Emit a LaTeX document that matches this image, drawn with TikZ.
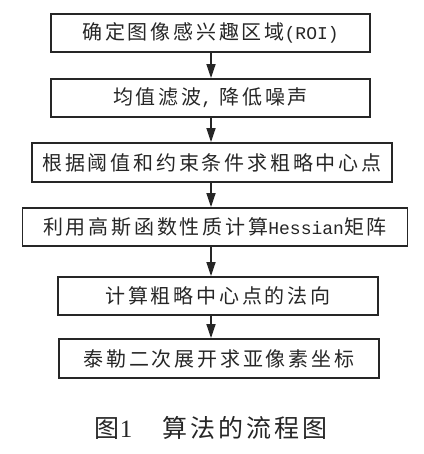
\documentclass[tikz,border=0pt]{standalone}
\usepackage{fontspec}
\newfontfamily\cjk[LetterSpace=14]{Noto Sans CJK SC}
\newfontfamily\cjkcap[LetterSpace=12]{Noto Sans CJK SC}
\newfontfamily\lat{Liberation Mono}
\newfontfamily\capnum{Liberation Serif}
\usetikzlibrary{arrows.meta}
\tikzset{
  stepbox/.style={draw=black!85, line width=1.8pt, inner sep=0pt, minimum height=38pt,
    font=\fontsize{20}{22}\selectfont\cjk, text=black!85},
  flow/.style={draw=black!85, line width=1.6pt, -{Triangle[length=14pt,width=9pt]}}
}
\begin{document}
\begin{tikzpicture}[x=1pt,y=-1pt]
\useasboundingbox (0,0) rectangle (423,454);
\node[stepbox, minimum width=319pt] (b1) at (210.5,33) {确定图像感兴趣区域{\fontsize{18}{20}\lat (ROI)}};
\node[stepbox, minimum width=319pt] (b2) at (210.5,98) {均值滤波{\fontsize{18}{20}\lat ,} 降低噪声};
\node[stepbox, minimum width=360pt, minimum height=39pt] (b3) at (212,162.5) {根据阈值和约束条件求粗略中心点};
\node[stepbox, minimum width=385pt] (b4) at (215,227) {利用高斯函数性质计算{\fontsize{18}{20}\lat Hessian}矩阵};
\node[stepbox, minimum width=320pt] (b5) at (218,296) {计算粗略中心点的法向};
\node[stepbox, minimum width=320pt, minimum height=39pt] (b6) at (219,358.5) {泰勒二次展开求亚像素坐标};
\coordinate (ax) at (211,0);
\draw[flow] (b1.south -| ax) -- (b2.north -| ax);
\draw[flow] (b2.south -| ax) -- (b3.north -| ax);
\draw[flow] (b3.south -| ax) -- (b4.north -| ax);
\draw[flow] (b4.south -| ax) -- (b5.north -| ax);
\draw[flow] (b5.south -| ax) -- (b6.north -| ax);
\node[font=\fontsize{25}{27}\selectfont\cjkcap, text=black!85, inner sep=0pt] (cap) at (211,428) {图{\capnum 1}\hspace{30pt}算法的流程图};
\end{tikzpicture}
\end{document}
